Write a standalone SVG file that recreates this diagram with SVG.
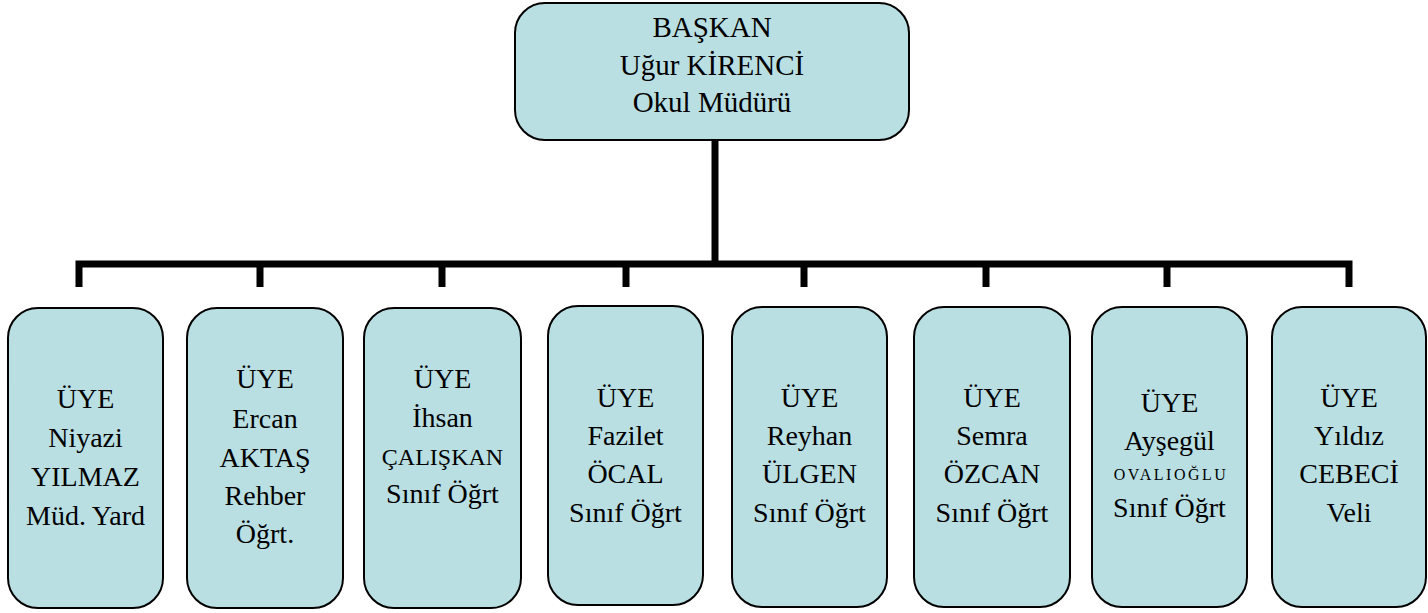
<svg xmlns="http://www.w3.org/2000/svg" width="1428" height="613" viewBox="0 0 1428 613">
<style>
.box{fill:#B9DFE3;stroke:#000;stroke-width:2}
.t{font-family:'Liberation Serif','Times New Roman',serif;font-size:28px;fill:#000;text-anchor:middle}
.h{font-size:29px}
.s{font-size:24px}
.xs{font-size:16px;letter-spacing:2.5px}
.c{stroke:#000;stroke-width:7;fill:none}
</style>
<rect width="1428" height="613" fill="#fff"/>
<g id="connectors">
<line class="c" x1="715" y1="140" x2="715" y2="264"/>
<polyline class="c" points="79,287 79,264 1349,264 1349,287"/>
<line class="c" x1="260" y1="264" x2="260" y2="287"/>
<line class="c" x1="442" y1="264" x2="442" y2="287"/>
<line class="c" x1="626" y1="264" x2="626" y2="287"/>
<line class="c" x1="804" y1="264" x2="804" y2="287"/>
<line class="c" x1="986" y1="264" x2="986" y2="287"/>
<line class="c" x1="1167" y1="264" x2="1167" y2="287"/>
</g>
<g id="baskan">
<rect class="box" x="515" y="3" width="394" height="137" rx="30"/>
<text class="t h" x="712" y="37">BAŞKAN</text>
<text class="t h" x="712" y="75">Uğur KİRENCİ</text>
<text class="t h" x="712" y="112">Okul Müdürü</text>
</g>
<g id="uye1">
<rect class="box" x="8" y="308" width="155" height="300" rx="30"/>
<text class="t" x="85.5" y="408">ÜYE</text>
<text class="t" x="85.5" y="447">Niyazi</text>
<text class="t" x="85.5" y="486">YILMAZ</text>
<text class="t" x="85.5" y="525">Müd. Yard</text>
</g>
<g id="uye2">
<rect class="box" x="187" y="308" width="156" height="300" rx="30"/>
<text class="t" x="265" y="388">ÜYE</text>
<text class="t" x="265" y="428">Ercan</text>
<text class="t" x="265" y="467">AKTAŞ</text>
<text class="t" x="265" y="505">Rehber</text>
<text class="t" x="265" y="543">Öğrt.</text>
</g>
<g id="uye3">
<rect class="box" x="364" y="308" width="157" height="300" rx="30"/>
<text class="t" x="442.5" y="388">ÜYE</text>
<text class="t" x="442.5" y="427">İhsan</text>
<text class="t s" x="442.5" y="465">ÇALIŞKAN</text>
<text class="t" x="442.5" y="503">Sınıf Öğrt</text>
</g>
<g id="uye4">
<rect class="box" x="548" y="306" width="155" height="299" rx="30"/>
<text class="t" x="625.5" y="407">ÜYE</text>
<text class="t" x="625.5" y="445">Fazilet</text>
<text class="t" x="625.5" y="483">ÖCAL</text>
<text class="t" x="625.5" y="522">Sınıf Öğrt</text>
</g>
<g id="uye5">
<rect class="box" x="732" y="307" width="155" height="300" rx="30"/>
<text class="t" x="809.5" y="407">ÜYE</text>
<text class="t" x="809.5" y="445">Reyhan</text>
<text class="t" x="809.5" y="483">ÜLGEN</text>
<text class="t" x="809.5" y="522">Sınıf Öğrt</text>
</g>
<g id="uye6">
<rect class="box" x="914" y="307" width="156" height="300" rx="30"/>
<text class="t" x="992" y="407">ÜYE</text>
<text class="t" x="992" y="445">Semra</text>
<text class="t" x="992" y="483">ÖZCAN</text>
<text class="t" x="992" y="522">Sınıf Öğrt</text>
</g>
<g id="uye7">
<rect class="box" x="1092" y="307" width="155" height="300" rx="30"/>
<text class="t" x="1169.5" y="412">ÜYE</text>
<text class="t" x="1169.5" y="450">Ayşegül</text>
<text class="t xs" x="1171" y="480">OVALIOĞLU</text>
<text class="t" x="1169.5" y="517">Sınıf Öğrt</text>
</g>
<g id="uye8">
<rect class="box" x="1272" y="307" width="154" height="300" rx="30"/>
<text class="t" x="1349" y="407">ÜYE</text>
<text class="t" x="1349" y="445">Yıldız</text>
<text class="t" x="1349" y="483">CEBECİ</text>
<text class="t" x="1349" y="522">Veli</text>
</g>
</svg>
